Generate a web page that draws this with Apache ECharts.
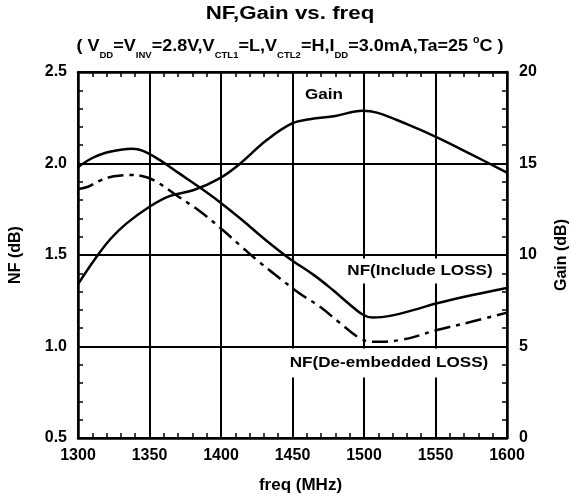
<!DOCTYPE html>
<html>
<head>
<meta charset="utf-8">
<title>NF,Gain vs. freq</title>
<script src="https://cdn.jsdelivr.net/npm/echarts@6/dist/echarts.min.js"></script>
<style>
  html, body { margin: 0; padding: 0; background: #fff; overflow: hidden; }
</style>
</head>
<body>
<div id="main" style="width:571px;height:499px;"></div>
<script type="text/javascript">
// NF with fixture loss included (left axis, dB)
var nfInclFreq = [1300, 1310, 1320, 1330, 1338, 1345, 1357, 1370, 1385, 1399, 1415, 1430, 1448, 1465, 1478, 1490, 1499, 1506, 1520, 1535, 1551, 1575, 1600];
var nfInclVal  = [1.98, 2.03, 2.06, 2.075, 2.08, 2.07, 2.02, 1.95, 1.87, 1.79, 1.69, 1.59, 1.48, 1.39, 1.31, 1.23, 1.175, 1.158, 1.17, 1.20, 1.236, 1.28, 1.32];

// NF with loss de-embedded (left axis, dB)
var nfDeFreq = [1300, 1307, 1315, 1325, 1337, 1348, 1357, 1370, 1385, 1400, 1413, 1427, 1441, 1455, 1469, 1483, 1497, 1506, 1525, 1551, 1575, 1600];
var nfDeVal  = [1.86, 1.873, 1.905, 1.93, 1.937, 1.925, 1.89, 1.82, 1.74, 1.645, 1.555, 1.46, 1.373, 1.29, 1.218, 1.13, 1.046, 1.026, 1.035, 1.09, 1.135, 1.185];

// Gain (right axis, dB)
var gainFreq = [1300, 1313, 1323, 1334, 1350, 1364, 1381, 1399, 1413, 1432, 1450, 1462, 1480, 1499, 1509, 1530, 1551, 1575, 1600];
var gainVal  = [8.4, 9.9, 10.9, 11.73, 12.64, 13.22, 13.55, 14.19, 14.97, 16.28, 17.2, 17.42, 17.6, 17.88, 17.78, 17.15, 16.43, 15.5, 14.5];

// subtitle pieces: m = normal, s = subscript, u = superscript
var subtitleParts = [
    ['( V', 'm'], ['DD', 's'], ['=V', 'm'], ['INV', 's'], ['=2.8V,V', 'm'], ['CTL1', 's'],
    ['=L,V', 'm'], ['CTL2', 's'], ['=H,I', 'm'], ['DD', 's'], ['=3.0mA,Ta=25 ', 'm'], ['o', 'u'], ['C )', 'm']
];

function pairs(xs, ys) {
    return xs.map(function (x, i) { return [x, ys[i]]; });
}

var FONT = '"Liberation Sans", Arial, sans-serif';
var black = '#000';

// measure text so the subtitle pieces can be laid side by side
var measureCtx = document.createElement('canvas').getContext('2d');
function textWidth(str, size) {
    measureCtx.font = 'bold ' + size + 'px ' + FONT;
    return measureCtx.measureText(str).width;
}

var partStyle = {
    m: { size: 17, y: 46 },
    s: { size: 9, y: 56 },
    u: { size: 10, y: 40 }
};

function buildSubtitle(centerX, scaleX) {
    var children = [];
    var x = 0;
    subtitleParts.forEach(function (p) {
        var st = partStyle[p[1]];
        children.push({
            type: 'text', x: x, y: st.y,
            style: { text: p[0], fill: black, fontFamily: FONT, fontWeight: 'bold', fontSize: st.size, align: 'left', verticalAlign: 'middle' }
        });
        x += textWidth(p[0], st.size);
    });
    return { type: 'group', x: centerX - x * scaleX / 2, y: 0, scaleX: scaleX, z: 50, children: children };
}

var myChart = echarts.init(document.getElementById('main'));

var tickLabel = { color: black, fontFamily: FONT, fontWeight: 'bold', fontSize: 16 };
var nameStyle = { color: black, fontFamily: FONT, fontWeight: 'bold', fontSize: 16 };
var axisLine = { show: true, lineStyle: { color: black, width: 2.5 } };
var minorTick = { show: true, splitNumber: 5, length: 5, lineStyle: { color: black, width: 1.5 } };

function curveLabel(text, x, y, pad) {
    return {
        type: 'text', x: x, y: y, scaleX: 1.14, z: 50,
        style: {
            text: text, fill: black, fontFamily: FONT, fontWeight: 'bold', fontSize: 15,
            backgroundColor: '#fff', padding: pad, align: 'center', verticalAlign: 'middle'
        }
    };
}

var option = {
    animation: false,
    backgroundColor: '#fff',
    grid: { left: 78, right: 64, top: 72, bottom: 61, containLabel: false, outerBoundsMode: 'none' },
    graphic: [
        {
            type: 'text', x: 290, y: 14, scaleX: 1.24, z: 50,
            style: { text: 'NF,Gain vs. freq', fill: black, fontFamily: FONT, fontWeight: 'bold', fontSize: 18, align: 'center', verticalAlign: 'middle' }
        },
        buildSubtitle(290, 1.06),
        curveLabel('Gain', 324, 95, [2, 2, 2, 2]),
        curveLabel('NF(Include LOSS)', 420, 271, [5, 3, 5, 3]),
        curveLabel('NF(De-embedded LOSS)', 389, 363, [7, 2, 7, 2])
    ],
    xAxis: [
        {
            type: 'value', min: 1300, max: 1600, interval: 50,
            name: 'freq (MHz)', nameLocation: 'middle', nameGap: 39,
            nameTextStyle: Object.assign({ padding: [0, 0, 0, 16], fontSize: 17 }, { color: black, fontFamily: FONT, fontWeight: 'bold' }),
            axisLine: axisLine,
            axisTick: { show: false, inside: true },
            minorTick: minorTick,
            axisLabel: Object.assign({ margin: 10, formatter: function (v) { return String(v); } }, tickLabel),
            splitLine: { show: true, lineStyle: { color: black, width: 2 } }
        },
        {
            type: 'value', position: 'top', min: 1300, max: 1600, interval: 50,
            axisLine: axisLine,
            axisTick: { show: false, inside: true },
            minorTick: minorTick,
            axisLabel: { show: false },
            splitLine: { show: false }
        }
    ],
    yAxis: [
        {
            type: 'value', min: 0.5, max: 2.5, interval: 0.5,
            name: 'NF (dB)', nameLocation: 'middle', nameGap: 54, nameRotate: 90,
            nameTextStyle: nameStyle,
            axisLine: axisLine,
            axisTick: { show: false, inside: true },
            minorTick: minorTick,
            axisLabel: Object.assign({ margin: 11, formatter: function (v) { return v.toFixed(1); } }, tickLabel),
            splitLine: { show: true, lineStyle: { color: black, width: 2 } }
        },
        {
            type: 'value', position: 'right', min: 0, max: 20, interval: 5,
            name: 'Gain (dB)', nameLocation: 'middle', nameGap: 47, nameRotate: 90,
            nameTextStyle: nameStyle,
            axisLine: axisLine,
            axisTick: { show: false, inside: true },
            minorTick: minorTick,
            axisLabel: Object.assign({ margin: 12 }, tickLabel),
            splitLine: { show: false }
        }
    ],
    series: [
        {
            name: 'NF(Include LOSS)', type: 'line', xAxisIndex: 0, yAxisIndex: 0,
            smooth: 0.4, symbol: 'none',
            lineStyle: { color: black, width: 2.5 },
            data: pairs(nfInclFreq, nfInclVal)
        },
        {
            name: 'NF(De-embedded LOSS)', type: 'line', xAxisIndex: 0, yAxisIndex: 0,
            smooth: 0.4, symbol: 'none',
            lineStyle: { color: black, width: 2.5, type: [16, 6, 4, 6] },
            data: pairs(nfDeFreq, nfDeVal)
        },
        {
            name: 'Gain', type: 'line', xAxisIndex: 0, yAxisIndex: 1,
            smooth: 0.4, symbol: 'none',
            lineStyle: { color: black, width: 2.5 },
            data: pairs(gainFreq, gainVal)
        }
    ]
};

myChart.setOption(option);
</script>
</body>
</html>
